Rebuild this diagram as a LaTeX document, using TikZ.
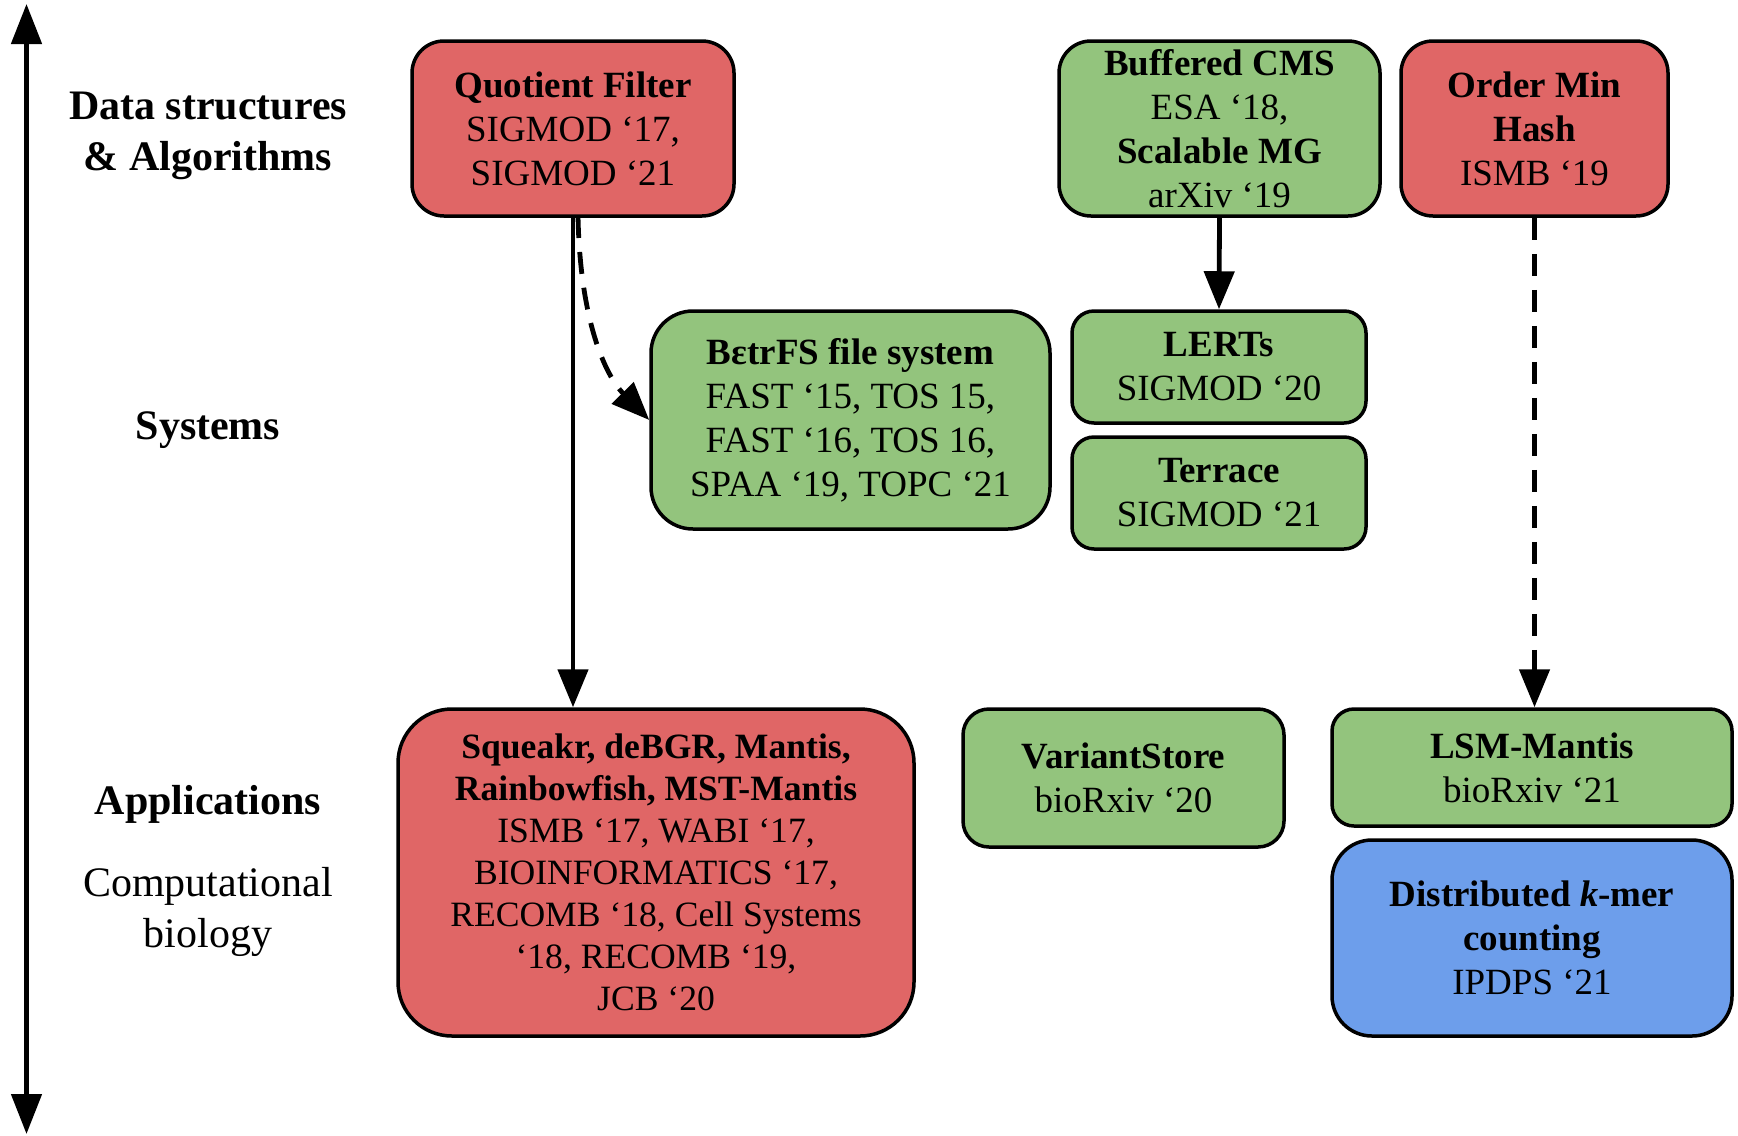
\documentclass[tikz,border=0pt]{standalone}
\usepackage{fontspec}
\setmainfont{Liberation Serif}
\usetikzlibrary{arrows.meta}
\definecolor{boxred}{HTML}{E06666}
\definecolor{boxgreen}{HTML}{93C47D}
\definecolor{boxblue}{HTML}{6D9EEB}
\tikzset{
  pub/.style={draw=black, line width=1.75pt, align=center, inner sep=0pt,
    font=\fontsize{18.5}{22}\selectfont},
  redbox/.style={pub, fill=boxred},
  greenbox/.style={pub, fill=boxgreen},
  bluebox/.style={pub, fill=boxblue},
  lvl/.style={align=center, font=\fontsize{21}{25.5}\selectfont},
  conn/.style={line width=2.4pt, -{Triangle[length=19pt,width=15pt]}},
  dashconn/.style={conn, dash pattern=on 11pt off 7pt},
}
\begin{document}
\begin{tikzpicture}[x=0.5pt,y=-0.5pt]
\useasboundingbox (0,0) rectangle (1738,1135);
% axis
\coordinate (axtop) at (26.5,4);
\coordinate (axbot) at (26.5,1134);
\draw[line width=2.4pt, {Triangle[length=20pt,width=15pt]}-{Triangle[length=20pt,width=15pt]}] (axtop) -- (axbot);
% level labels
\node[lvl, font=\bfseries\fontsize{21}{25.5}\selectfont] (ldsa) at (208,136) {Data structures\\\& Algorithms};
\node[lvl, font=\bfseries\fontsize{21}{25.5}\selectfont] (lsys) at (208,430) {Systems};
\node[lvl, font=\bfseries\fontsize{21}{25.5}\selectfont] (lapp) at (208,804) {Applications};
\node[lvl] (lcb) at (208,912) {Computational\\biology};
% boxes
\node[redbox, minimum width=161pt, minimum height=87.5pt, rounded corners=16pt] (qf) at (573,128.5)
  {\textbf{Quotient Filter}\\SIGMOD ‘17,\\SIGMOD ‘21};
\node[greenbox, minimum width=160.5pt, minimum height=87.5pt, rounded corners=16pt] (bcms) at (1219.5,128.5)
  {\textbf{Buffered CMS}\\ESA ‘18,\\\textbf{Scalable MG}\\arXiv ‘19};
\node[redbox, minimum width=133.5pt, minimum height=87.5pt, rounded corners=16pt] (omh) at (1534.5,128.5)
  {\textbf{Order Min}\\\textbf{Hash}\\ISMB ‘19};
\node[greenbox, minimum width=199.5pt, minimum height=109pt, rounded corners=21pt] (betr) at (850.5,420)
  {\textbf{BεtrFS file system}\\FAST ‘15, TOS 15,\\FAST ‘16, TOS 16,\\SPAA ‘19, TOPC ‘21};
\node[greenbox, minimum width=147pt, minimum height=56pt, rounded corners=11pt] (lerts) at (1219,367)
  {\textbf{LERTs}\\SIGMOD ‘20};
\node[greenbox, minimum width=147pt, minimum height=56pt, rounded corners=11pt] (terr) at (1219,493)
  {\textbf{Terrace}\\SIGMOD ‘21};
\node[redbox, minimum width=258pt, minimum height=163.5pt, rounded corners=27pt,
  font=\fontsize{17.8}{21}\selectfont] (sq) at (656,872.5)
  {\textbf{Squeakr, deBGR, Mantis,}\\\textbf{Rainbowfish, MST-Mantis}\\ISMB ‘17, WABI ‘17,\\BIOINFORMATICS ‘17,\\RECOMB ‘18, Cell Systems\\‘18, RECOMB ‘19,\\JCB ‘20};
\node[greenbox, minimum width=160.5pt, minimum height=69pt, rounded corners=13pt] (vs) at (1123.5,778)
  {\textbf{VariantStore}\\bioRxiv ‘20};
\node[greenbox, minimum width=200pt, minimum height=58.5pt, rounded corners=11pt] (lsm) at (1532,767.5)
  {\textbf{LSM-Mantis}\\bioRxiv ‘21};
\node[bluebox, minimum width=200pt, minimum height=98pt, rounded corners=20pt] (dist) at (1532,938)
  {\textbf{Distributed \textit{k}-mer}\\\textbf{counting}\\IPDPS ‘21};
% connectors
\draw[conn] (qf.south) -- (qf.south |- sq.north);
\coordinate (dstart) at (578,216);
\draw[dashconn] (dstart) .. controls (580,320) and (605,375) .. (betr.west);
\draw[conn] (bcms.south) -- (lerts.north);
\draw[dashconn] (omh.south) -- (omh.south |- lsm.north);
\end{tikzpicture}
\end{document}
